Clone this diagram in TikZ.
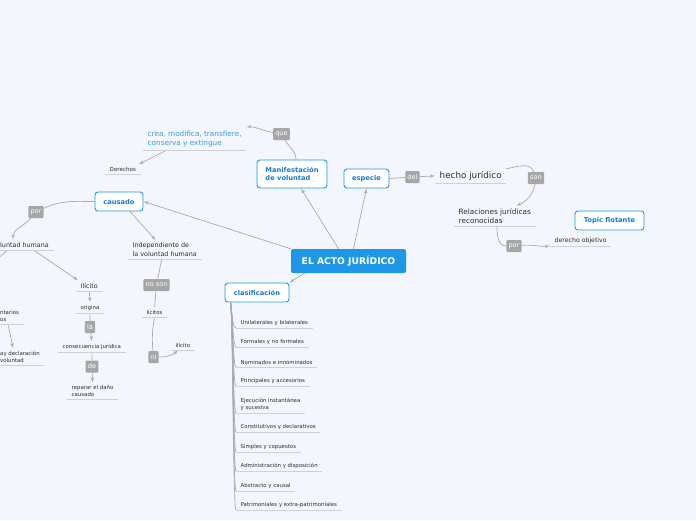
\documentclass[tikz,border=0pt]{standalone}
\usepackage{fontspec}
\setmainfont{DejaVu Sans}
\usepackage{xcolor}
\usetikzlibrary{shapes,arrows,positioning}
\definecolor{bgblue}{RGB}{243,246,253}
\definecolor{mmblue}{RGB}{30,152,230}
\definecolor{mmtext}{RGB}{26,122,214}
\definecolor{mmlight}{RGB}{52,160,230}
\definecolor{conn}{RGB}{168,170,176}
\definecolor{ulgray}{RGB}{206,209,216}
\definecolor{lblgray}{RGB}{166,166,166}
\definecolor{txtdark}{RGB}{45,45,50}
\tikzstyle{rootbox} = [rectangle, fill=mmblue, text=white,
    font=\bfseries\fontsize{9.2}{10}\selectfont, rounded corners=2pt,
    minimum width=115pt, minimum height=24pt]
\tikzstyle{block} = [rectangle, draw=mmblue, fill=white, line width=0.9pt,
    text=mmtext, font=\bfseries\fontsize{6.7}{8.6}\selectfont, rounded corners=3pt,
    minimum height=19pt, align=left]
\tikzstyle{topic} = [anchor=south west, inner xsep=4.5pt, inner ysep=2.5pt,
    text=txtdark, font=\fontsize{5.4}{7}\selectfont, align=left]
\tikzstyle{line} = [draw=conn, -latex', line width=0.7pt]

\begin{document}
\begin{tikzpicture}[x=1pt, y=-1pt]
    % Style definitions
    \tikzstyle{mid} = [topic, font=\fontsize{6.4}{8.4}\selectfont]
    \tikzstyle{big} = [topic, font=\fontsize{7.3}{8.8}\selectfont]
    \tikzstyle{lbl} = [fill=lblgray, text=white, font=\fontsize{6.6}{7}\selectfont,
        rounded corners=1pt, inner xsep=2.2pt, inner ysep=1pt, minimum height=12pt]
    \tikzstyle{link} = [draw=conn, line width=0.7pt]
    \tikzstyle{uline} = [draw=ulgray, line width=0.7pt]

    % Canvas
    \fill [bgblue] (0,0) rectangle (696,520);
    \useasboundingbox (0,0) rectangle (696,520);

    % Main nodes
    \node [rootbox] (acto) at (348.5,261) {EL ACTO JURÍDICO};
    \node [block, minimum width=70pt, minimum height=28pt] (manif) at (292,174) {Manifestación\\de voluntad};
    \node [block, minimum width=45pt] (especie) at (366.5,178.5) {especie};
    \node [block, minimum width=48pt] (causado) at (119,201.5) {causado};
    \node [block, minimum width=64pt] (clasif) at (257,292.5) {clasificación};
    \node [block, minimum width=69pt] (flot) at (609.5,220.5) {Topic flotante};

    % Upper left topics
    \node [big, text=mmlight] (crea) at (143,150) {crea, modifica, transfiere,\\conserva y extingue};
    \node [topic, font=\fontsize{5.6}{7}\selectfont] (derechos) at (105,174) {Derechos};
    \node [mid] (luntad) at (-4.5,250) {luntad humana};
    \node [mid] (indep) at (128,259) {Independiente de\\la voluntad humana};

    % Lower left topics
    \node [mid] (ilicito) at (76,291) {Ilícito};
    \node [topic] (origina) at (76,313) {origina};
    \node [topic] (consec) at (58,352) {consecuencia jurídica};
    \node [topic] (reparar) at (67,399) {reparar el daño\\causado};
    \node [topic] (licitos) at (142,317) {lícitos};
    \node [topic] (ilicitob) at (171,350) {ilícito};
    \node [topic] (ntarios) at (-4.5,324) {ntarios\\os};
    \node [topic] (aydecl) at (-4.5,365) {ay declaración\\voluntad};

    % Right topics
    \node [topic, font=\fontsize{8.8}{10}\selectfont] (hecho) at (435,183) {hecho jurídico};
    \node [big] (relac) at (454,226) {Relaciones jurídicas\\reconocidas};
    \node [topic, font=\fontsize{6.2}{7}\selectfont] (derobj) at (550,246) {derecho objetivo};

    % Connection labels
    \node [lbl] (que) at (281.5,134) {que};
    \node [lbl] (por) at (36,212) {por};
    \node [lbl] (la) at (90,327) {la};
    \node [lbl] (de) at (92,366.5) {de};
    \node [lbl] (noson) at (156.5,285) {no son};
    \node [lbl] (ni) at (153.5,357) {ni};
    \node [lbl] (del) at (412.5,177) {del};
    \node [lbl] (son) at (536,178) {son};
    \node [lbl] (porb) at (514,246) {por};
    \coordinate (offleft) at (-6,262);

    % Connections
    \path [line] ([xshift=-10pt]acto.north) -- ([xshift=9pt]manif.south);
    \path [line] ([xshift=5pt]acto.north) -- (especie.south);
    \path [line] (acto.north west) -- (causado.east);
    \path [line] ([xshift=-44pt]acto.south) -- (clasif.north east);
    \path [link] ([xshift=4pt]manif.north) to[out=90, in=-60] (que);
    \path [line] (que) to[out=170, in=0] ([yshift=2pt]crea.north east);
    \path [line] ([xshift=24pt]crea.south west) -- ([xshift=-2pt]derechos.north east);
    \path [link] (causado.west) to[out=180, in=25] (por);
    \path [line] (por) to[out=-130, in=90] ([xshift=17.5pt]luntad.north west);
    \path [link] ([xshift=12pt]luntad.south west) -- (offleft);
    \path [line] ([xshift=38pt]luntad.south west) -- ([xshift=2pt]ilicito.north west);
    \path [line] (ilicito.south) -- (origina.north);
    \path [link] (origina) -- (la);
    \path [line] (la) -- (consec.north);
    \path [link] (consec.south) -- (de);
    \path [line] (de) -- (reparar.north);
    \path [line] ([xshift=11pt]causado.south) -- ([xshift=-9pt]indep.north);
    \path [link] ([xshift=-3pt]indep.south) -- (noson);
    \path [link] (noson) -- (licitos.north);
    \path [link] (licitos.south) to[out=-100, in=95] (ni);
    \path [line] (ni.east) to[out=0, in=-135] ([xshift=7pt]ilicitob.south west);
    \path [line] ([xshift=12.5pt]ntarios.south west) -- ([xshift=17.5pt]aydecl.north west);
    \path [link] (especie.east) -- (del);
    \path [line] (del) -- (hecho.west);
    \path [link] (hecho.north east) to[out=10, in=110] (son);
    \path [line] (son) to[out=-100, in=25] ([xshift=-19pt]relac.north east);
    \path [link] ([xshift=43pt]relac.south west) to[out=-90, in=180] (porb);
    \path [line] (porb) to[out=5, in=185] (derobj.south west);

    % Classification branches
    \foreach \y/\t [count=\i] in {328/Unilaterales y bilaterales, 347/Formales y no formales,
        367/Nominados e innominados, 386/Principales y accesorios,
        413/{Ejecución instantánea\\y sucesiva}, 432/Constitutivos y declarativos,
        452/Simples y copuestos, 471/Administración y disposición,
        491/Abstracto y causal, 510/Patrimoniales y extra-patrimoniales} {
        \node [topic] (c\i) at (236,\y) {\t};
        \path [link] ([xshift=6pt]clasif.south west) .. controls (233,320) and (233,\y) .. (c\i.south west);
        \path [uline] (c\i.south west) -- (c\i.south east);
    }

    % Underlines
    \foreach \n in {crea,derechos,luntad,indep,ilicito,origina,consec,reparar,
        licitos,ilicitob,ntarios,aydecl,hecho,relac,derobj}
        \path [uline] (\n.south west) -- (\n.south east);
\end{tikzpicture}
\end{document}
